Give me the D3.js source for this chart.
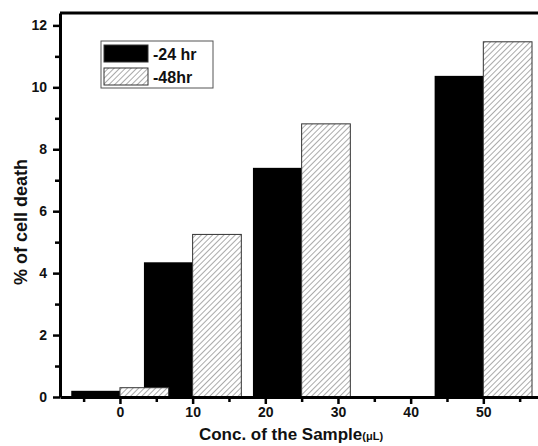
<!DOCTYPE html>
<html>
<head>
<meta charset="utf-8">
<script src="https://cdn.jsdelivr.net/npm/d3@7"></script>
<style>
  body { margin: 0; background: #fff; }
  svg { display: block; font-family: Arial, "Liberation Sans", sans-serif; font-weight: bold; }
</style>
</head>
<body>
<div id="chart"></div>
<script>
// concentration (uL) at which each pair of bars meets
const concs = [0, 10, 25, 50];
const hr24 = [0.2, 4.35, 7.4, 10.37];
const hr48 = [0.3, 5.25, 8.82, 11.47];
const seriesNames = ["-24 hr", "-48hr"];
const xTicks = [0, 10, 20, 30, 40, 50];
const yTicks = [0, 2, 4, 6, 8, 10, 12];

const barW = 6.7; // in x units

const svg = d3.select("#chart")
  .append("svg")
    .attr("width", 538)
    .attr("height", 446);

// hatch pattern for the 48 hr bars
const defs = svg.append("defs");
const pat = defs.append("pattern")
    .attr("id", "hatch")
    .attr("patternUnits", "userSpaceOnUse")
    .attr("width", 4)
    .attr("height", 4)
    .attr("patternTransform", "rotate(45)");
pat.append("rect").attr("width", 4).attr("height", 4).attr("fill", "#fff");
pat.append("line")
    .attr("x1", 0).attr("y1", 0).attr("x2", 0).attr("y2", 4)
    .attr("stroke", "#555")
    .attr("stroke-width", 1);

const x = d3.scaleLinear()
  .domain([-8.25, 57.8])
  .range([60, 540]);

const y = d3.scaleLinear()
  .domain([0, 12.4])
  .range([397, 13]);

// bars
svg.append("g").selectAll("rect")
  .data(concs)
  .join("rect")
    .attr("x", d => x(d - barW))
    .attr("y", (d, i) => y(hr24[i]))
    .attr("width", d => x(d) - x(d - barW))
    .attr("height", (d, i) => y(0) - y(hr24[i]))
    .attr("fill", "#000");

svg.append("g").selectAll("rect")
  .data(concs)
  .join("rect")
    .attr("x", d => x(d))
    .attr("y", (d, i) => y(hr48[i]))
    .attr("width", d => x(d + barW) - x(d))
    .attr("height", (d, i) => y(0) - y(hr48[i]))
    .attr("fill", "url(#hatch)")
    .attr("stroke", "#333")
    .attr("stroke-width", 1);

// x axis
const xAxis = svg.append("g")
    .attr("transform", `translate(0, ${y(0)})`)
    .call(d3.axisBottom(x).tickValues(xTicks).tickSize(7).tickSizeOuter(0).tickPadding(3));
const xMinor = svg.append("g")
    .attr("transform", `translate(0, ${y(0)})`)
    .call(d3.axisBottom(x).tickValues(d3.range(-5, 56, 10)).tickSize(5).tickFormat(""));
xMinor.select(".domain").remove();

// y axis
const yAxis = svg.append("g")
    .attr("transform", `translate(${x.range()[0]}, 0)`)
    .call(d3.axisLeft(y).tickValues(yTicks).tickSize(7).tickSizeOuter(0).tickPadding(6));
const yMinor = svg.append("g")
    .attr("transform", `translate(${x.range()[0]}, 0)`)
    .call(d3.axisLeft(y).tickValues(d3.range(1, 12, 2)).tickSize(5).tickFormat(""));
yMinor.select(".domain").remove();

svg.selectAll(".domain").attr("stroke", "#000").attr("stroke-width", 3);
svg.selectAll(".tick line").attr("stroke", "#000").attr("stroke-width", 2.5);
svg.selectAll(".tick text")
    .attr("font-size", 14)
    .attr("font-weight", "bold")
    .attr("font-family", "Arial, 'Liberation Sans', sans-serif")
    .attr("fill", "#111");

// top frame line
svg.append("line")
    .attr("x1", x.range()[0]).attr("x2", 540)
    .attr("y1", y.range()[1]).attr("y2", y.range()[1])
    .attr("stroke", "#000")
    .attr("stroke-width", 3);

// axis titles
const xt = svg.append("text")
    .attr("x", 291)
    .attr("y", 440)
    .attr("text-anchor", "middle")
    .attr("font-size", 17)
    .attr("fill", "#111");
xt.append("tspan").text("Conc. of the Sample");
xt.append("tspan").attr("font-size", 11).text("(μL)");

svg.append("text")
    .attr("transform", "translate(27, 222) rotate(-90)")
    .attr("text-anchor", "middle")
    .attr("font-size", 18)
    .attr("fill", "#111")
    .text("% of cell death");

// legend
const leg = svg.append("g").attr("transform", "translate(101, 41)");
leg.append("rect")
    .attr("width", 112).attr("height", 47)
    .attr("fill", "#fff")
    .attr("stroke", "#555")
    .attr("stroke-width", 1);
leg.selectAll(".sw")
  .data(seriesNames)
  .join("rect")
    .attr("class", "sw")
    .attr("x", 3)
    .attr("y", (d, i) => 4 + i * 23)
    .attr("width", 44)
    .attr("height", 17)
    .attr("fill", (d, i) => i === 0 ? "#000" : "url(#hatch)")
    .attr("stroke", "#333")
    .attr("stroke-width", 1);
leg.selectAll(".lt")
  .data(seriesNames)
  .join("text")
    .attr("class", "lt")
    .attr("x", 52)
    .attr("y", (d, i) => 19 + i * 23)
    .attr("font-size", 16)
    .attr("fill", "#111")
    .text(d => d);
</script>
</body>
</html>
